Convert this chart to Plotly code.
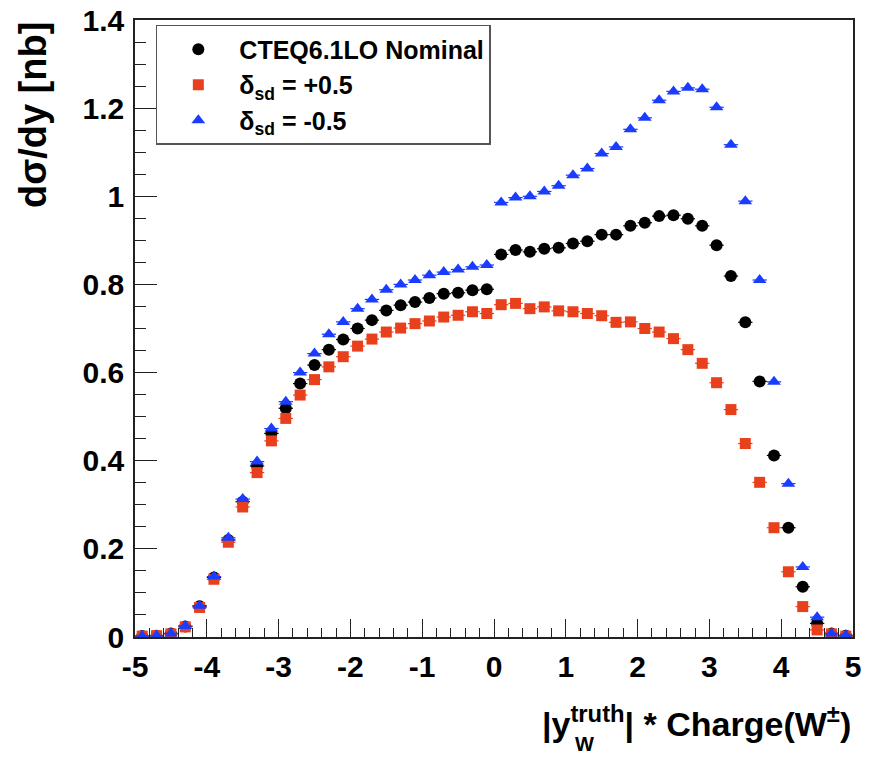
import plotly.graph_objects as go

# bin centres of |y_W^truth| * Charge(W)
y_bins = [-4.9, -4.7, -4.5, -4.3, -4.1, -3.9, -3.7, -3.5, -3.3, -3.1,
          -2.9, -2.7, -2.5, -2.3, -2.1, -1.9, -1.7, -1.5, -1.3, -1.1,
          -0.9, -0.7, -0.5, -0.3, -0.1, 0.1, 0.3, 0.5, 0.7, 0.9,
          1.1, 1.3, 1.5, 1.7, 1.9, 2.1, 2.3, 2.5, 2.7, 2.9,
          3.1, 3.3, 3.5, 3.7, 3.9, 4.1, 4.3, 4.5, 4.7, 4.9]
half_width = [0.1] * 50

nominal = [0.002, 0.003, 0.008, 0.024, 0.070, 0.135, 0.220, 0.307, 0.388, 0.462,
           0.519, 0.575, 0.617, 0.652, 0.675, 0.700, 0.719, 0.741, 0.753, 0.760,
           0.769, 0.779, 0.781, 0.787, 0.789, 0.868, 0.878, 0.874, 0.881, 0.883,
           0.893, 0.898, 0.913, 0.913, 0.933, 0.940, 0.955, 0.957, 0.949, 0.933,
           0.889, 0.819, 0.714, 0.580, 0.412, 0.248, 0.114, 0.031, 0.008, 0.003]

delta_plus = [0.002, 0.003, 0.007, 0.023, 0.067, 0.131, 0.215, 0.295, 0.373, 0.445,
              0.496, 0.549, 0.584, 0.613, 0.636, 0.660, 0.676, 0.692, 0.701, 0.711,
              0.717, 0.726, 0.730, 0.738, 0.734, 0.754, 0.757, 0.745, 0.749, 0.740,
              0.738, 0.734, 0.729, 0.714, 0.715, 0.700, 0.692, 0.677, 0.652, 0.621,
              0.577, 0.516, 0.439, 0.351, 0.248, 0.148, 0.069, 0.016, 0.007, 0.002]

delta_minus = [0.002, 0.003, 0.008, 0.025, 0.071, 0.137, 0.225, 0.313, 0.398, 0.473,
               0.534, 0.600, 0.643, 0.687, 0.715, 0.745, 0.766, 0.788, 0.800, 0.810,
               0.821, 0.828, 0.834, 0.840, 0.844, 0.986, 0.997, 1.000, 1.011, 1.024,
               1.048, 1.063, 1.097, 1.112, 1.152, 1.178, 1.218, 1.238, 1.246, 1.243,
               1.202, 1.117, 0.989, 0.810, 0.579, 0.348, 0.159, 0.045, 0.008, 0.004]

x_tick_vals = [-5, -4, -3, -2, -1, 0, 1, 2, 3, 4, 5]
x_tick_text = ["-5", "-4", "-3", "-2", "-1", "0", "1", "2", "3", "4", "5"]
y_tick_vals = [0, 0.2, 0.4, 0.6, 0.8, 1.0, 1.2, 1.4]
y_tick_text = ["0", "0.2", "0.4", "0.6", "0.8", "1", "1.2", "1.4"]

names = ["CTEQ6.1LO Nominal", "δ<sub>sd</sub> = +0.5", "δ<sub>sd</sub> = -0.5"]
colors = ["#000000", "#e8401c", "#1a3cff"]
symbols = ["circle", "square", "triangle-up"]
sizes = [12, 11, 12]

FONT = "Liberation Sans, Arial, sans-serif"

fig = go.Figure()
for vals, nm, col, sym, sz in zip([nominal, delta_plus, delta_minus], names, colors, symbols, sizes):
    fig.add_trace(go.Scatter(
        x=y_bins, y=vals, mode="markers", name=nm,
        marker=dict(symbol=sym, size=sz, color=col, line=dict(width=0)),
        error_x=dict(type="data", array=half_width, visible=True, width=0,
                     thickness=1.2, color=col),
    ))

axis_common = dict(
    showgrid=False, zeroline=False, showline=True, linecolor="#222222", linewidth=1.5,
    mirror=True, ticks="inside", tickcolor="#222222", tickwidth=1.2, automargin=False,
    tickfont=dict(family=FONT, size=30, color="black", weight="bold"),
)

fig.update_xaxes(range=[-5, 5], tickmode="array", tickvals=x_tick_vals, ticktext=x_tick_text,
                 ticklen=18,
                 minor=dict(dtick=0.2, tick0=0, ticklen=9, ticks="inside", tickcolor="#222222", tickwidth=1.2),
                 ticklabelstandoff=2, **axis_common)
fig.update_yaxes(range=[0, 1.4], tickmode="array", tickvals=y_tick_vals, ticktext=y_tick_text,
                 ticklen=22,
                 minor=dict(dtick=0.05, tick0=0, ticklen=11, ticks="inside", tickcolor="#222222", tickwidth=1.2),
                 ticklabelstandoff=3, **axis_common)

fig.add_annotation(
    text="|y<sup>truth</sup>| * Charge(W<sup>±</sup>)", xref="paper", yref="paper",
    x=1.0, y=-0.099, xanchor="right", yanchor="top", showarrow=False,
    font=dict(family=FONT, size=34, color="black", weight="bold"))
fig.add_annotation(
    text="W", xref="paper", yref="paper",
    x=0.611, y=-0.154, xanchor="left", yanchor="top", showarrow=False, borderpad=0,
    font=dict(family=FONT, size=20, color="black", weight="bold"))
fig.add_annotation(
    text="dσ/dy [nb]", xref="paper", yref="paper",
    x=-0.142, y=1.0, xanchor="center", yanchor="top", textangle=-90, showarrow=False,
    font=dict(family=FONT, size=38, color="black", weight="bold"))

fig.update_layout(
    width=870, height=759,
    margin=dict(l=135, r=17, t=20, b=122),
    paper_bgcolor="white", plot_bgcolor="white",
    showlegend=True,
    legend=dict(x=0.029, y=0.992, xanchor="left", yanchor="top",
                bgcolor="white", bordercolor="#555555", borderwidth=1.5,
                font=dict(family=FONT, size=25, color="black", weight="bold"),
                itemwidth=72, indentation=0, tracegroupgap=0),
)

fig.write_html("out.html")
